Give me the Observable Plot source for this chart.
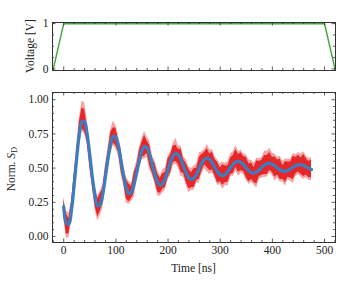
<!DOCTYPE html>
<html><head><meta charset="utf-8">
<script src="https://cdn.jsdelivr.net/npm/d3@7"></script>
<script src="https://cdn.jsdelivr.net/npm/@observablehq/plot@0.6"></script>
<style>
body{margin:0;background:#fff;}
#chart{position:relative;width:350px;height:292px;font-family:"Liberation Serif","DejaVu Serif",serif;}
#chart svg{display:block;}
#chart text{font-family:"Liberation Serif","DejaVu Serif",serif !important;}
</style></head><body><div id="chart"></div>
<script>
// Voltage pulse (top panel)
const voltT = [-20, 0, 500, 520];
const voltV = [0, 1, 1, 0];

// Fit curve (blue), sampled every 5 ns
const fitT = [0,5,10,15,20,25,30,35,40,45,50,55,60,65,70,75,80,85,90,95,
100,105,110,115,120,125,130,135,140,145,150,155,160,165,170,175,180,185,190,195,
200,205,210,215,220,225,230,235,240,245,250,255,260,265,270,275,280,285,290,295,
300,305,310,315,320,325,330,335,340,345,350,355,360,365,370,375,380,385,390,395,
400,405,410,415,420,425,430,435,440,445,450,455,460,465,470,475];
const fitV = [0.219,0.097,0.090,0.194,0.374,0.576,0.745,0.839,0.838,0.747,
0.598,0.432,0.297,0.224,0.232,0.310,0.435,0.570,0.678,0.733,
0.723,0.655,0.551,0.441,0.355,0.314,0.326,0.384,0.470,0.559,
0.628,0.659,0.646,0.596,0.525,0.452,0.398,0.375,0.388,0.430,
0.489,0.548,0.591,0.608,0.596,0.560,0.511,0.463,0.429,0.417,
0.428,0.459,0.500,0.539,0.565,0.574,0.563,0.537,0.503,0.472,
0.451,0.445,0.455,0.477,0.505,0.530,0.546,0.550,0.542,0.523,
0.500,0.480,0.467,0.464,0.473,0.488,0.507,0.523,0.533,0.535,
0.528,0.514,0.499,0.486,0.478,0.477,0.484,0.495,0.507,0.518,
0.524,0.524,0.519,0.509,0.499,0.490];

// Measured data (red) spread around the fit: dense core and outer spikes
const coreUp = [0.05,0.07,0.04,0.06,0.08,0.05,0.09,0.10,0.09,0.06,
0.07,0.04,0.06,0.05,0.08,0.04,0.07,0.05,0.08,0.06,
0.07,0.05,0.08,0.04,0.06,0.07,0.04,0.08,0.05,0.07,
0.06,0.08,0.05,0.07,0.04,0.08,0.06,0.05,0.07,0.04,
0.08,0.05,0.07,0.06,0.04,0.08,0.05,0.07,0.06,0.05,
0.07,0.04,0.08,0.06,0.05,0.07,0.04,0.08,0.06,0.07,
0.05,0.08,0.06,0.04,0.07,0.06,0.09,0.05,0.07,0.06,
0.08,0.05,0.07,0.04,0.08,0.06,0.05,0.07,0.06,0.08,
0.05,0.07,0.06,0.08,0.04,0.07,0.06,0.05,0.08,0.06,
0.07,0.05,0.08,0.06,0.05,0.07];
const coreDn = [0.06,0.08,0.07,0.05,0.06,0.04,0.06,0.05,0.07,0.05,
0.08,0.06,0.07,0.08,0.05,0.07,0.06,0.04,0.06,0.05,
0.06,0.04,0.07,0.05,0.08,0.06,0.05,0.07,0.04,0.06,
0.05,0.07,0.04,0.08,0.06,0.05,0.07,0.06,0.04,0.07,
0.06,0.08,0.05,0.06,0.07,0.09,0.05,0.07,0.08,0.06,
0.07,0.05,0.08,0.06,0.04,0.07,0.08,0.05,0.06,0.08,
0.05,0.07,0.06,0.08,0.05,0.07,0.04,0.08,0.06,0.05,
0.07,0.08,0.05,0.07,0.09,0.05,0.06,0.07,0.08,0.05,
0.06,0.08,0.05,0.07,0.06,0.08,0.05,0.07,0.09,0.06,
0.05,0.07,0.08,0.06,0.07,0.06];
const spikeUp = [0.07,0.09,0.08,0.07,0.09,0.10,0.12,0.15,0.14,0.11,
0.08,0.07,0.09,0.07,0.10,0.07,0.09,0.08,0.10,0.11,
0.09,0.08,0.10,0.07,0.08,0.09,0.06,0.10,0.08,0.09,
0.09,0.11,0.08,0.10,0.07,0.10,0.09,0.07,0.10,0.07,
0.10,0.07,0.09,0.11,0.07,0.10,0.07,0.10,0.08,0.08,
0.09,0.07,0.11,0.08,0.07,0.10,0.07,0.10,0.08,0.09,
0.08,0.10,0.08,0.07,0.10,0.09,0.12,0.07,0.09,0.08,
0.10,0.08,0.09,0.07,0.10,0.08,0.07,0.10,0.09,0.11,
0.08,0.09,0.08,0.10,0.07,0.09,0.08,0.07,0.10,0.08,
0.09,0.08,0.10,0.08,0.07,0.09];
const spikeDn = [0.08,0.11,0.10,0.08,0.08,0.07,0.08,0.07,0.09,0.08,
0.11,0.08,0.10,0.11,0.08,0.10,0.08,0.07,0.08,0.07,
0.08,0.07,0.10,0.07,0.11,0.08,0.07,0.10,0.07,0.08,
0.07,0.09,0.07,0.11,0.08,0.07,0.10,0.08,0.07,0.09,
0.08,0.10,0.07,0.08,0.10,0.12,0.08,0.09,0.11,0.08,
0.09,0.07,0.11,0.08,0.07,0.10,0.11,0.07,0.08,0.10,
0.07,0.10,0.08,0.11,0.07,0.09,0.07,0.11,0.08,0.07,
0.09,0.10,0.07,0.09,0.12,0.07,0.08,0.09,0.10,0.07,
0.08,0.11,0.07,0.09,0.08,0.11,0.07,0.09,0.12,0.08,
0.07,0.09,0.10,0.08,0.09,0.08];

// Ticks
const xMajor = [0,100,200,300,400,500];
const xMinor = [-20,20,40,60,80,120,140,160,180,220,240,260,280,320,340,360,380,420,440,460,480,520];
const yTopMajor = [0,1];
const yTopMinor = [0.25,0.5,0.75];
const yBotMajor = [0,0.25,0.5,0.75,1];
const yBotMinor = [0.05,0.1,0.15,0.2,0.3,0.35,0.4,0.45,0.55,0.6,0.65,0.7,0.8,0.85,0.9,0.95];

const volt = voltT.map((t,i)=>({t, v: voltV[i]}));
const fit = fitT.map((t,i)=>({t, v: fitV[i]}));
const red = fitT.map((t,i)=>({t,
  lo1: fitV[i]-coreDn[i], hi1: fitV[i]+coreUp[i],
  lo2: fitV[i]-spikeDn[i], hi2: fitV[i]+spikeUp[i]}));

const W = 350, ML = 52, MR = 15;
const FW = W - ML - MR;
const TC = "#333";
const FONT = '"Liberation Serif", "DejaVu Serif", serif';
const xDomain = [-21.5, 521];

function frameTicks(fh, xmaj, xmin, ymaj, ymin) {
  const o = {stroke: TC, strokeWidth: 0.8};
  const M = 3.5, m = 2;
  return [
    Plot.tickX(xmaj, {x: d=>d, insetTop: fh-M, ...o}),
    Plot.tickX(xmaj, {x: d=>d, insetBottom: fh-M, ...o}),
    Plot.tickX(xmin, {x: d=>d, insetTop: fh-m, ...o}),
    Plot.tickX(xmin, {x: d=>d, insetBottom: fh-m, ...o}),
    Plot.tickY(ymaj, {y: d=>d, insetRight: FW-M, ...o}),
    Plot.tickY(ymaj, {y: d=>d, insetLeft: FW-M, ...o}),
    Plot.tickY(ymin, {y: d=>d, insetRight: FW-m, ...o}),
    Plot.tickY(ymin, {y: d=>d, insetLeft: FW-m, ...o})
  ];
}

// Top panel
const topH = 80, topMT = 22, topMB = 10;
const topPanel = Plot.plot({
  width: W, height: topH, marginLeft: ML, marginRight: MR, marginTop: topMT, marginBottom: topMB,
  style: {fontFamily: FONT, fontSize: "11.5px", background: "transparent", color: "#222"},
  x: {domain: xDomain, axis: null},
  y: {domain: [-0.035, 1.025], axis: null},
  marks: [
    Plot.line(volt, {x: "t", y: "v", stroke: "#45a845", strokeWidth: 1.5}),
    Plot.frame({stroke: TC, strokeWidth: 1}),
    ...frameTicks(topH-topMT-topMB, xMajor, xMinor, yTopMajor, yTopMinor),
    Plot.axisY({ticks: yTopMajor, tickSize: 0, tickPadding: 4, tickFormat: d=>String(d), label: null, fontSize: 11.5})
  ]
});

// Bottom panel
const botH = 212, botMT = 12, botMB = 50;
const botPanel = Plot.plot({
  width: W, height: botH, marginLeft: ML, marginRight: MR, marginTop: botMT, marginBottom: botMB,
  style: {fontFamily: FONT, fontSize: "11.5px", background: "transparent", color: "#222"},
  x: {domain: xDomain, axis: null},
  y: {domain: [-0.044, 1.053], axis: null},
  marks: [
    Plot.areaY(red, {x: "t", y1: "lo2", y2: "hi2", fill: "#e8191c", fillOpacity: 0.4}),
    Plot.areaY(red, {x: "t", y1: "lo1", y2: "hi1", fill: "#e31a1c", fillOpacity: 0.9}),
    Plot.line(fit, {x: "t", y: "v", stroke: "#3a7dc0", strokeWidth: 3.2, curve: "catmull-rom"}),
    Plot.frame({stroke: TC, strokeWidth: 1}),
    ...frameTicks(botH-botMT-botMB, xMajor, xMinor, yBotMajor, yBotMinor),
    Plot.axisY({ticks: yBotMajor, tickSize: 0, tickPadding: 4, tickFormat: d3.format(".2f"), label: null, fontSize: 11.5}),
    Plot.axisX({ticks: xMajor, tickSize: 0, tickPadding: 3, tickFormat: d=>String(d), label: null, fontSize: 11.5})
  ]
});

const chart = document.getElementById("chart");
chart.appendChild(topPanel);
chart.appendChild(botPanel);

// Axis titles
d3.select(topPanel).append("text")
  .attr("transform", "translate(34,46) rotate(-90)")
  .attr("text-anchor", "middle").attr("fill", "#222")
  .style("font-size", "11.5px")
  .text("Voltage [V]");

const yl = d3.select(botPanel).append("text")
  .attr("transform", "translate(15,89) rotate(-90)")
  .attr("text-anchor", "middle").attr("fill", "#222")
  .style("font-size", "11.5px");
yl.append("tspan").text("Norm. ");
yl.append("tspan").style("font-style", "italic").text("S");
yl.append("tspan").attr("dy", "0.25em").style("font-size", "8.5px").text("D");

d3.select(botPanel).append("text")
  .attr("x", ML + FW/2).attr("y", 192.3)
  .attr("text-anchor", "middle").attr("fill", "#222")
  .style("font-size", "11.5px")
  .text("Time [ns]");
</script></body></html>
